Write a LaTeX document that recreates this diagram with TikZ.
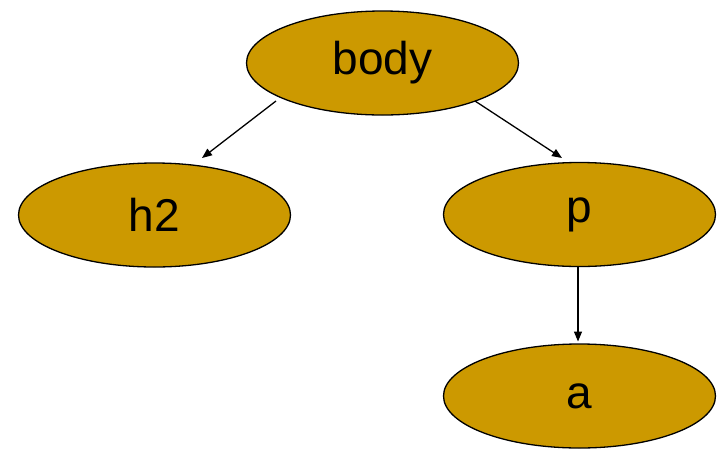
\documentclass[tikz,border=0pt]{standalone}
\usepackage{fontspec}
\setmainfont{Liberation Sans}
\usetikzlibrary{shapes.geometric,arrows.meta}
\definecolor{gold}{HTML}{CC9900}
\begin{document}
\begin{tikzpicture}[x=1pt,y=-1pt,
  elnode/.style={ellipse,draw=black,line width=1.3pt,fill=gold,minimum width=272pt,minimum height=104pt,inner sep=0pt,font=\fontsize{46}{50}\selectfont},
  arr/.style={-{Triangle[length=10pt,width=8pt]},line width=1.3pt}]
\useasboundingbox (0,0) rectangle (721,448);
\node[elnode] (body) at (382.5,63) {body};
\node[elnode] (h2) at (154.5,215) {h2};
\node[elnode] (p) at (579.5,214.5) {p};
\node[elnode] (a) at (579.5,396) {a};
\draw[arr] ([shift={(-106.5,38)}]body.center) -- ([shift={(47.5,-57)}]h2.center);
\draw[arr] ([shift={(92.5,38)}]body.center) -- ([shift={(-17.5,-56.5)}]p.center);
\draw[arr] ([shift={(-1.5,52.5)}]p.center) -- ([shift={(-1.5,-54.5)}]a.center);
\end{tikzpicture}
\end{document}
